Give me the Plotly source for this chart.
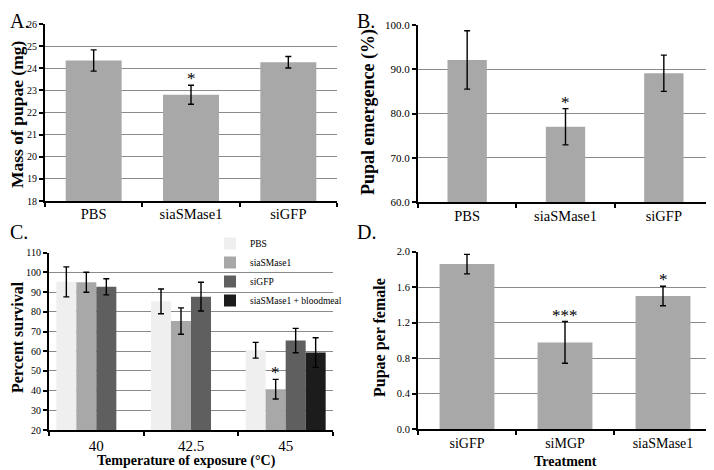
import plotly.graph_objects as go

# ---------------- data ----------------
a_cats = ["PBS", "siaSMase1", "siGFP"]
a_vals = [24.35, 22.80, 24.27]
a_err = [0.48, 0.43, 0.26]

b_cats = ["PBS", "siaSMase1", "siGFP"]
b_vals = [92.1, 77.0, 89.1]
b_err = [6.6, 4.1, 4.1]

c_cats = ["40", "42.5", "45"]
c_series = ["PBS", "siaSMase1", "siGFP", "siaSMase1 + bloodmeal"]
c_pbs = [95.2, 85.3, 60.5]
c_pbs_err = [7.6, 6.3, 4.0]
c_sia = [95.0, 75.3, 40.7]
c_sia_err = [5.1, 6.7, 5.0]
c_gfp = [92.7, 87.7, 65.4]
c_gfp_err = [4.1, 7.3, 6.2]
c_blood = [None, None, 59.3]
c_blood_err = [0, 0, 7.5]

d_cats = ["siGFP", "siMGP", "siaSMase1"]
d_vals = [1.86, 0.977, 1.50]
d_err = [0.11, 0.235, 0.11]

# significance marks
a_sig = {1: "*"}
b_sig = {1: "*"}
c_sig = {(2, 1): "*"}
d_sig = {1: "***", 2: "*"}

# titles
a_ytitle = "Mass of pupae (mg)"
b_ytitle = "Pupal emergence (%)"
c_ytitle = "Percent survival"
c_xtitle = "Temperature of exposure (°C)"
d_ytitle = "Pupae per female"
d_xtitle = "Treatment"

# ---------------- style ----------------
# The page body has an 8px margin, so the figure is drawn 8px in from the top-left.
OFF = 8
W, H = 714 - OFF, 470 - OFF
SERIF = "Liberation Serif, Times New Roman, serif"
BAR = "#a8a8a8"
C_COLORS = ["#efefef", "#a8a8a8", "#5f5f5f", "#1c1c1c"]
GRID = "#8a8a8a"
C_BARGAP = 0.155

def dx(p0, p1):
    return [(p0 - OFF) / W, (p1 - OFF) / W]

def dy(top, bottom):
    return [1 - (bottom - OFF) / H, 1 - (top - OFF) / H]

def px_x(p):
    return (p - OFF) / W

def px_y(p):
    return 1 - (p - OFF) / H

fig = go.Figure()

def err(arr):
    return dict(type="data", array=arr, color="black", thickness=1.4, width=3, visible=True)

fig.add_trace(go.Bar(x=a_cats, y=a_vals, error_y=err(a_err), marker_color=BAR,
                     marker_line_width=0, width=0.575, showlegend=False,
                     xaxis="x", yaxis="y"))
fig.add_trace(go.Bar(x=b_cats, y=b_vals, error_y=err(b_err), marker_color=BAR,
                     marker_line_width=0, width=0.40, showlegend=False,
                     xaxis="x2", yaxis="y2"))
c_vals = [c_pbs, c_sia, c_gfp, c_blood]
c_errs = [c_pbs_err, c_sia_err, c_gfp_err, c_blood_err]
for name, vals, e, col in zip(c_series, c_vals, c_errs, C_COLORS):
    fig.add_trace(go.Bar(x=c_cats, y=vals, error_y=err(e), marker_color=col,
                         marker_line_width=0, name=name, showlegend=True,
                         xaxis="x3", yaxis="y3"))
fig.add_trace(go.Bar(x=d_cats, y=d_vals, error_y=err(d_err), marker_color=BAR,
                     marker_line_width=0, width=0.56, showlegend=False,
                     xaxis="x4", yaxis="y4"))

def xax(domain, anchor, standoff, catsize):
    return dict(domain=domain, anchor=anchor, type="category", showline=True,
                linecolor="black", linewidth=2, ticks="outside", tickson="boundaries",
                ticklen=4, tickwidth=1.5, tickcolor="black",
                tickfont=dict(family=SERIF, size=catsize, color="black"),
                showgrid=False, ticklabelstandoff=standoff, fixedrange=True,
                automargin=False)

def yax(domain, anchor, rng, dtick, fmt, ticksize):
    return dict(domain=domain, anchor=anchor, range=rng, dtick=dtick, tickformat=fmt,
                showline=True, linecolor="black", linewidth=2, ticks="outside",
                ticklen=4, tickwidth=1.5, tickcolor="black",
                tickfont=dict(family=SERIF, size=ticksize, color="black"),
                showgrid=True, gridcolor=GRID, gridwidth=1.3, zeroline=False,
                automargin=False)

fig.update_layout(
    width=W, height=H, margin=dict(l=0, r=0, t=0, b=0, autoexpand=False),
    paper_bgcolor="white", plot_bgcolor="white",
    barmode="group", bargap=C_BARGAP, bargroupgap=0,
    font=dict(family=SERIF, color="black"),
    xaxis=xax(dx(45, 337), "y", -1, 14.5),
    yaxis=yax(dy(24, 201), "x", [18, 26], 1, "d", 10),
    xaxis2=xax(dx(418, 713), "y2", 0, 14.5),
    yaxis2=yax(dy(25, 202), "x2", [60, 100], 10, ".1f", 11),
    xaxis3=xax(dx(49, 333), "y3", 1, 15),
    yaxis3=yax(dy(252.7, 430), "x3", [20, 110], 10, "d", 10),
    xaxis4=xax(dx(418, 712), "y4", 0, 14),
    yaxis4=yax(dy(251.7, 429), "x4", [0, 2], 0.4, ".1f", 10.5),
    legend=dict(x=202 / W, y=1 - 221 / H, xanchor="left", yanchor="top",
                bgcolor="rgba(0,0,0,0)", font=dict(family=SERIF, size=9.5, color="black"),
                traceorder="normal"),
)

# axis titles placed where the reference has them (page pixel centres)
for txt, cx, cy, size, ang in [(a_ytitle, 17, 115, 17.5, -90),
                               (b_ytitle, 368, 112, 18, -90),
                               (c_ytitle, 17, 337, 16, -90),
                               (d_ytitle, 380, 338, 16, -90),
                               (c_xtitle, 187, 461, 14, 0),
                               (d_xtitle, 565, 461, 14, 0)]:
    fig.add_annotation(text=txt, xref="paper", yref="paper", x=px_x(cx), y=px_y(cy),
                       xanchor="center", yanchor="middle", textangle=ang, showarrow=False,
                       font=dict(family=SERIF, size=size, color="black", weight="bold"))

# panel letters (reference page pixel of the text box top-left)
for txt, px, py in [("A.", 0, 0), ("B.", 355, 0), ("C.", 0, 219), ("D.", 355, 219)]:
    fig.add_annotation(text=txt, xref="paper", yref="paper",
                       x=max(px - OFF, 0) / W, y=1 - max(py - OFF, 0) / H,
                       xanchor="left", yanchor="top", showarrow=False,
                       font=dict(family=SERIF, size=20, color="black"))

starfont = dict(family=SERIF, size=17, color="black")
def add_star(xref, yref, xpos, ytop, txt):
    fig.add_annotation(text=txt, xref=xref, yref=yref, x=xpos, y=ytop, yanchor="bottom",
                       showarrow=False, font=starfont, yshift=-5)

for i, t in a_sig.items():
    add_star("x", "y", i, a_vals[i] + a_err[i], t)
for i, t in b_sig.items():
    add_star("x2", "y2", i, b_vals[i] + b_err[i], t)
n = len(c_series)
bw = (1 - C_BARGAP) / n
for (ci, si), t in c_sig.items():
    xpos = ci - (1 - C_BARGAP) / 2 + bw * (si + 0.5)
    add_star("x3", "y3", xpos, c_vals[si][ci] + c_errs[si][ci], t)
for i, t in d_sig.items():
    add_star("x4", "y4", i, d_vals[i] + d_err[i], t)

fig.write_html("out.html")
